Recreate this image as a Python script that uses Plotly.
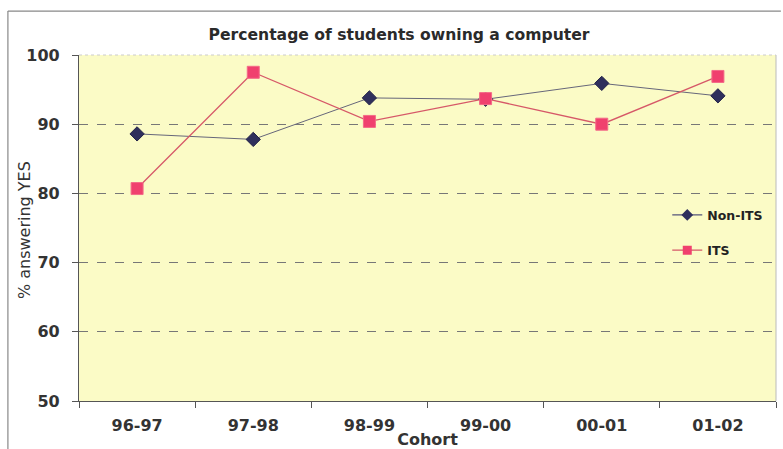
import plotly.graph_objects as go

cohorts = ["96-97", "97-98", "98-99", "99-00", "00-01", "01-02"]
non_its = [88.6, 87.8, 93.8, 93.6, 95.9, 94.1]
its = [80.7, 97.5, 90.4, 93.7, 90.0, 96.9]

FONT = "DejaVu Sans, Liberation Sans, Arial, sans-serif"
NAVY = "#2f2f5c"
PINK = "#f0406e"

fig = go.Figure()
fig.add_trace(go.Scatter(
    x=cohorts, y=non_its, name="Non-ITS", mode="lines+markers",
    line=dict(color="#66667a", width=1),
    marker=dict(symbol="diamond", size=11, color=NAVY, line=dict(color="#222248", width=1)),
    showlegend=False,
))
fig.add_trace(go.Scatter(
    x=cohorts, y=its, name="ITS", mode="lines+markers",
    line=dict(color="#d65868", width=1.3),
    marker=dict(symbol="square", size=12, color=PINK, line=dict(color="#f46a88", width=1)),
    showlegend=False,
))
# legend entries (smaller symbols, as in the reference legend)
fig.add_trace(go.Scatter(
    x=[None], y=[None], name="Non-ITS", mode="lines+markers",
    line=dict(color="#55557a", width=1.2),
    marker=dict(symbol="diamond", size=9, color=NAVY),
    legendgroup="a",
))
fig.add_trace(go.Scatter(
    x=[None], y=[None], name="ITS", mode="lines+markers",
    line=dict(color="#d65868", width=1.3),
    marker=dict(symbol="square", size=9, color=PINK),
    legendgroup="b",
))

fig.update_layout(
    width=783, height=449,
    margin=dict(l=79, r=7, t=55, b=48, autoexpand=False),
    paper_bgcolor="white",
    plot_bgcolor="#fbfbc6",
    font=dict(family=FONT, color="#333333"),
    title=dict(text="Percentage of students owning a computer", x=0.5096, xanchor="center",
               y=0.922, yanchor="middle", automargin=False,
               font=dict(family=FONT, size=15.6, color="#2a2a2a", weight="bold")),
    showlegend=True,
    legend=dict(x=0.844, y=0.58, xanchor="left", yanchor="top", bgcolor="rgba(0,0,0,0)",
                font=dict(family=FONT, size=12.5, color="#222222", weight="bold"),
                tracegroupgap=16, itemwidth=30),
)
fig.update_xaxes(
    type="category", tickson="boundaries", ticks="outside", ticklen=6, tickcolor="#555555",
    showline=True, linecolor="#555555", linewidth=1.2, automargin=False,
    showgrid=False, ticklabelstandoff=10,
    tickfont=dict(family=FONT, size=16, color="#333333", weight="bold"),
    title=dict(text="Cohort", font=dict(family=FONT, size=16, color="#333333", weight="bold"),
               standoff=0),
    range=[-0.5, 5.5],
)
fig.update_yaxes(
    range=[50, 100], dtick=10, ticks="outside", ticklen=6, tickcolor="#555555",
    showline=True, linecolor="#555555", linewidth=1.2, automargin=False,
    showgrid=True, gridcolor="#777777", griddash="dash", gridwidth=1,
    ticklabelstandoff=9,
    tickfont=dict(family=FONT, size=16, color="#333333", weight="bold"),
    zeroline=False,
)
# y-axis title placed as rotated text
fig.add_annotation(text="% answering YES", textangle=-90, showarrow=False,
                   xref="paper", yref="paper", x=(24 - 79) / 697, y=0.494,
                   xanchor="center", yanchor="middle",
                   font=dict(family=FONT, size=16, color="#333333"))
# plot-area right and top borders (light)
fig.add_shape(type="line", xref="paper", yref="paper", x0=1, x1=1, y0=0, y1=1,
              line=dict(color="#bbbbbb", width=1))
fig.add_shape(type="line", xref="paper", yref="paper", x0=0, x1=1, y0=1, y1=1,
              line=dict(color="#cccccc", width=1, dash="dot"))
# outer chart frame
fig.add_shape(type="line", xref="paper", yref="paper", x0=-0.102, x1=1.007, y0=1.127, y1=1.127,
              line=dict(color="#888888", width=1.2))
fig.add_shape(type="line", xref="paper", yref="paper", x0=-0.102, x1=-0.102, y0=1.127, y1=-0.14,
              line=dict(color="#888888", width=1.2))

fig.write_html("out.html")
